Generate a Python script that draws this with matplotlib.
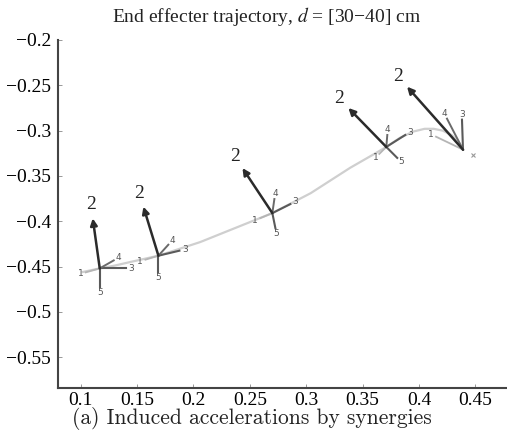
import numpy as np
import matplotlib
matplotlib.use("Agg")
import matplotlib.pyplot as plt

plt.rcParams['font.family'] = ['Liberation Serif', 'DejaVu Serif']
plt.rcParams['mathtext.fontset'] = 'stix'

# end effector path
traj_x = [0.102, 0.117, 0.130, 0.144, 0.169, 0.206, 0.242, 0.270, 0.304, 0.339,
          0.360, 0.371, 0.383, 0.395, 0.405, 0.413, 0.421, 0.429, 0.435, 0.439]
traj_y = [-0.456, -0.452, -0.449, -0.445, -0.438, -0.423, -0.405, -0.391, -0.369, -0.341,
          -0.326, -0.318, -0.308, -0.301, -0.298, -0.298, -0.300, -0.305, -0.312, -0.321]

# points where induced accelerations are drawn
ox = [0.117, 0.169, 0.270, 0.371, 0.439]
oy = [-0.452, -0.438, -0.391, -0.318, -0.321]

# induced acceleration of each synergy (dx, dy), nan = not shown
v1 = [(-0.0124, -0.0044), (-0.0115, -0.0044), (-0.0106, -0.0055), (-0.0062, -0.0077), (-0.0239, 0.0143)]
v2 = [(-0.0062, 0.0552), (-0.0133, 0.0541), (-0.0265, 0.0497), (-0.0336, 0.0430), (-0.0496, 0.0695)]
v3 = [(0.0230, 0.0), (0.0186, 0.0055), (0.0159, 0.0099), (0.0168, 0.0132), (-0.0009, 0.0331)]
v4 = [(0.0124, 0.0088), (0.0088, 0.0121), (0.0018, 0.0155), (0.0009, 0.0132), (-0.0142, 0.0342)]
v5 = [(0.0, -0.0210), (0.0, -0.0177), (0.0027, -0.0166), (0.0097, -0.0121), (np.nan, np.nan)]

target = (0.448, -0.327)

xticks = [0.1, 0.15, 0.2, 0.25, 0.3, 0.35, 0.4, 0.45]
yticks = [-0.2, -0.25, -0.3, -0.35, -0.4, -0.45, -0.5, -0.55]

fig = plt.figure(figsize=(5.07, 4.41), dpi=100)
ax = fig.add_axes([58 / 507, 53 / 441, 449 / 507, 348 / 441])
ax.set_xlim(0.08, 0.478)
ax.set_ylim(-0.584, -0.2)

ax.plot(traj_x, traj_y, color='#cfcfcf', lw=1.6, zorder=1)
ax.plot(*target, marker='x', ms=3, color='#999999', mew=0.8, ls='none')


def label_at(x, y, dx, dy, txt, off, **kw):
    p0 = ax.transData.transform((x, y))
    p1 = ax.transData.transform((x + dx, y + dy))
    d = p1 - p0
    d = d / np.hypot(*d)
    ax.annotate(txt, xy=(x + dx, y + dy), xytext=(d[0] * off, d[1] * off),
                textcoords='offset points', ha='center', va='center', **kw)


small = dict(fontsize=6.5, color='#555555', family='DejaVu Sans')
for i in range(len(ox)):
    x, y = ox[i], oy[i]
    for vec, col, lw, name in [(v1[i], '#b5b5b5', 1.3, '1'),
                               (v3[i], '#5a5a5a', 1.5, '3'),
                               (v4[i], '#6a6a6a', 1.4, '4'),
                               (v5[i], '#5a5a5a', 1.5, '5')]:
        if np.isnan(vec[0]):
            continue
        ax.plot([x, x + vec[0]], [y, y + vec[1]], color=col, lw=lw, zorder=2)
        label_at(x, y, vec[0], vec[1], name, 4, **small)
    dx, dy = v2[i]
    ax.annotate('', xy=(x + dx, y + dy), xytext=(x, y),
                arrowprops=dict(arrowstyle='-|>', lw=1.8, color='#2b2b2b',
                                mutation_scale=10, shrinkA=0, shrinkB=0), zorder=3)
    label_at(x, y, dx, dy, '2', 10, fontsize=14, color='#222222')

ax.set_xticks(xticks)
ax.set_xticklabels([f'{t:g}' for t in xticks])
ax.set_yticks(yticks)
ax.set_yticklabels([f'{t:g}'.replace('-', '\u2212') for t in yticks])
ax.tick_params(direction='in', length=3, width=0.6, labelsize=14, color='#888888')
ax.tick_params(axis='y', pad=5)
ax.tick_params(axis='x', pad=3)
ax.spines['top'].set_visible(False)
ax.spines['right'].set_visible(False)
ax.spines['left'].set_linewidth(1.5)
ax.spines['bottom'].set_linewidth(1.5)
ax.spines['left'].set_color('#444444')
ax.spines['bottom'].set_color('#444444')

fig.text(267 / 507, 1 - 17 / 441, 'End effecter trajectory, $d$ = [30\u221240] cm',
         ha='center', va='center', fontsize=14, color='#222222')
fig.text(252 / 507, 1 - 419 / 441, '(a) Induced accelerations by synergies',
         ha='center', va='center', fontsize=15.5, family='cmr10', color='#222222')

fig.savefig('out.png', dpi=100)
